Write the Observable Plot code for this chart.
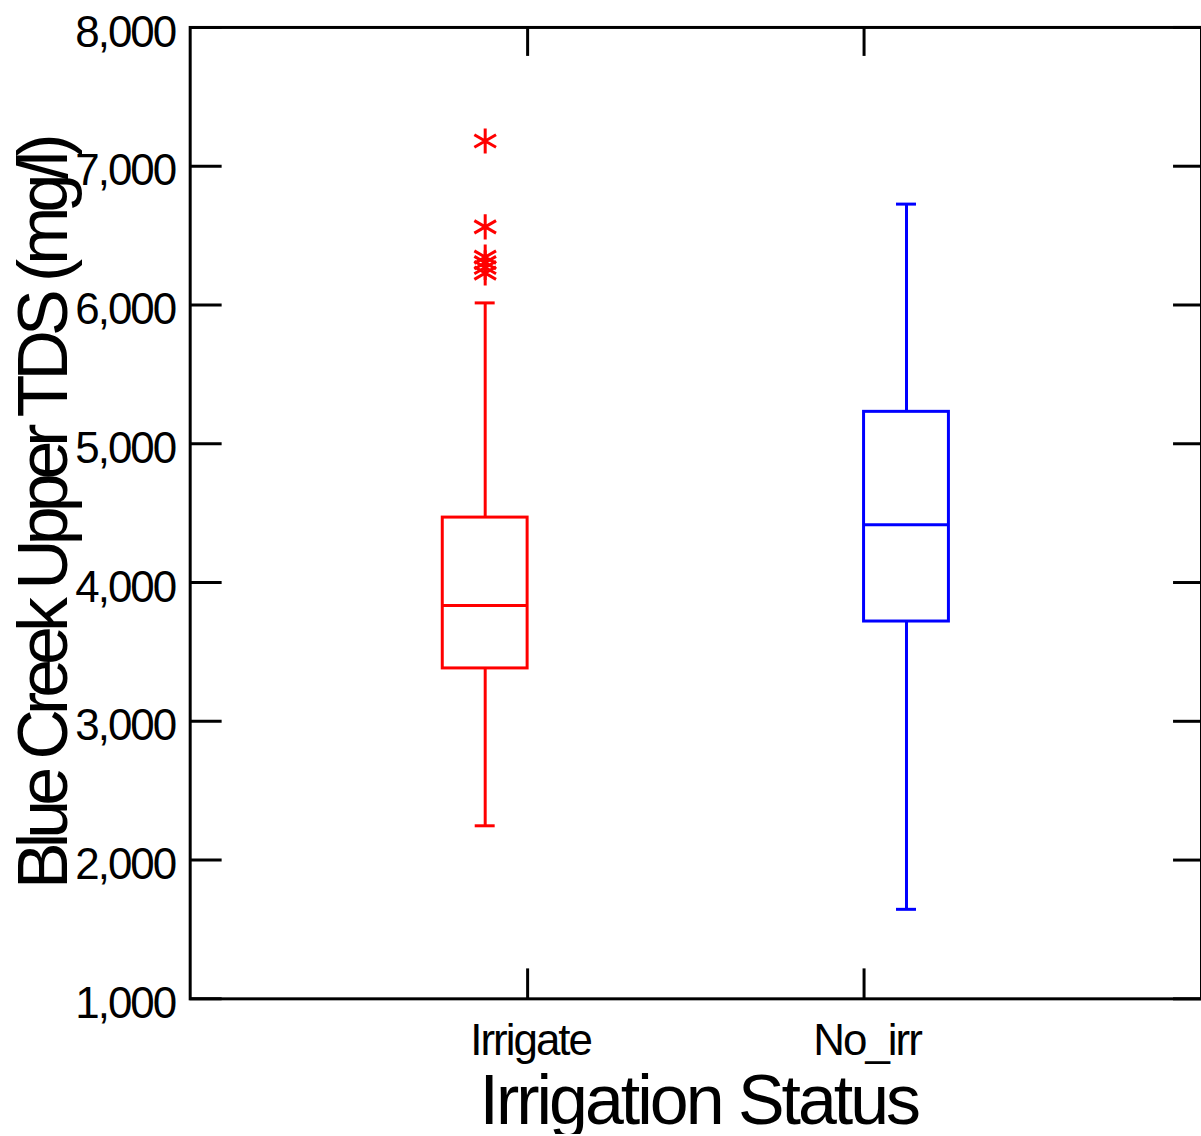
<!DOCTYPE html>
<html>
<head>
<meta charset="utf-8">
<script src="https://cdn.jsdelivr.net/npm/d3@7"></script>
<script src="https://cdn.jsdelivr.net/npm/@observablehq/plot@0.6"></script>
<style>
  html, body { margin: 0; padding: 0; background: #fff; overflow: hidden; }
</style>
</head>
<body>
<div id="chart"></div>
<script>
// ---- data ----
const categories = ["Irrigate", "No_irr"];
const colors = ["#ff0000", "#0000ff"];
const lowerWhisker = [2247, 1645];
const q1 = [3381, 3719];
const median = [3835, 4417];
const q3 = [4468, 5230];
const upperWhisker = [6015, 6727];
const outlierGroup = ["Irrigate", "Irrigate", "Irrigate", "Irrigate", "Irrigate", "Irrigate"];
const outlierValues = [7182, 6563, 6345, 6305, 6270, 6230];
const yTicks = [1000, 2000, 3000, 4000, 5000, 6000, 7000, 8000];
const xTitle = "Irrigation Status";
const yTitle = "Blue Creek Upper TDS (mg/l)";

const boxes = categories.map((c, i) => ({
  cat: c, lo: lowerWhisker[i], q1: q1[i], med: median[i], q3: q3[i], hi: upperWhisker[i]
}));
const outliers = outlierValues.map((v, i) => ({cat: outlierGroup[i], value: v}));

const font = "'Liberation Sans', Arial, Helvetica, sans-serif";
const half = 42.5; // half box width: category tick sits at the box edge

const plot = Plot.plot({
  width: 1203,
  height: 1136,
  marginLeft: 190,
  marginRight: 0,
  marginTop: 27,
  marginBottom: 136,
  style: {fontFamily: font, fontSize: "44px", color: "#000", background: "#fff", overflow: "visible"},
  x: {type: "band", domain: categories, paddingInner: 0.7986, paddingOuter: 0.5995, align: 0.5, axis: null},
  y: {domain: [1000, 8000], axis: null},
  color: {domain: categories, range: colors},
  marks: [
    // frame
    Plot.frame({stroke: "#000", strokeWidth: 3}),
    // y axis: labels and inward ticks on left and right
    Plot.axisY(yTicks, {anchor: "left", tickSize: 0, tickPadding: 15, tickFormat: d3.format(","), fontSize: 44, dy: 5, label: null}),
    Plot.axisY(yTicks, {anchor: "left", tickSize: 32, dx: 32, text: null, strokeWidth: 3, label: null}),
    Plot.axisY(yTicks, {anchor: "right", tickSize: 29, dx: -29, text: null, strokeWidth: 3, label: null}),
    // x axis: inward ticks at top and bottom, labels below
    ...categories.map((c, i) => {
      const off = i === 0 ? half : -half;
      return [
        Plot.axisX([c], {anchor: "bottom", tickSize: 30, dy: -30, dx: off, text: null, strokeWidth: 3, label: null}),
        Plot.axisX([c], {anchor: "top", tickSize: 28, dy: 28, dx: off, text: null, strokeWidth: 3, label: null}),
        Plot.axisX([c], {anchor: "bottom", tickSize: 0, tickPadding: 25, dx: off + 3, fontSize: 44, label: null})
      ];
    }).flat(),
    // axis titles
    Plot.text([yTitle], {frameAnchor: "left", textAnchor: "middle", rotate: -90, dx: -146, dy: 1, fontSize: 70, fill: "#000"}),
    Plot.text([xTitle], {frameAnchor: "bottom", lineAnchor: "top", dy: 76, dx: 3, fontSize: 70, fill: "#000"}),
    // box plots
    Plot.ruleX(boxes, {x: "cat", y1: "q3", y2: "hi", stroke: "cat", strokeWidth: 3}),
    Plot.ruleX(boxes, {x: "cat", y1: "lo", y2: "q1", stroke: "cat", strokeWidth: 3}),
    Plot.tickY(boxes, {x: "cat", y: "hi", stroke: "cat", strokeWidth: 3, insetLeft: 32.5, insetRight: 32.5}),
    Plot.tickY(boxes, {x: "cat", y: "lo", stroke: "cat", strokeWidth: 3, insetLeft: 32.5, insetRight: 32.5}),
    Plot.barY(boxes, {x: "cat", y1: "q1", y2: "q3", fill: "none", stroke: "cat", strokeWidth: 3}),
    Plot.tickY(boxes, {x: "cat", y: "med", stroke: "cat", strokeWidth: 3}),
    // outliers
    Plot.dot(outliers, {x: "cat", y: "value", symbol: "asterisk", r: 11.9, stroke: "cat", strokeWidth: 3})
  ]
});

// tighten letter spacing to match the condensed look of the reference
d3.select(plot).selectAll("text").each(function() {
  const t = this.textContent;
  const s = t === yTitle ? "-6px" : t === xTitle ? "-3px" : "-2px";
  d3.select(this).style("letter-spacing", s);
});

document.getElementById("chart").appendChild(plot);
</script>
</body>
</html>
